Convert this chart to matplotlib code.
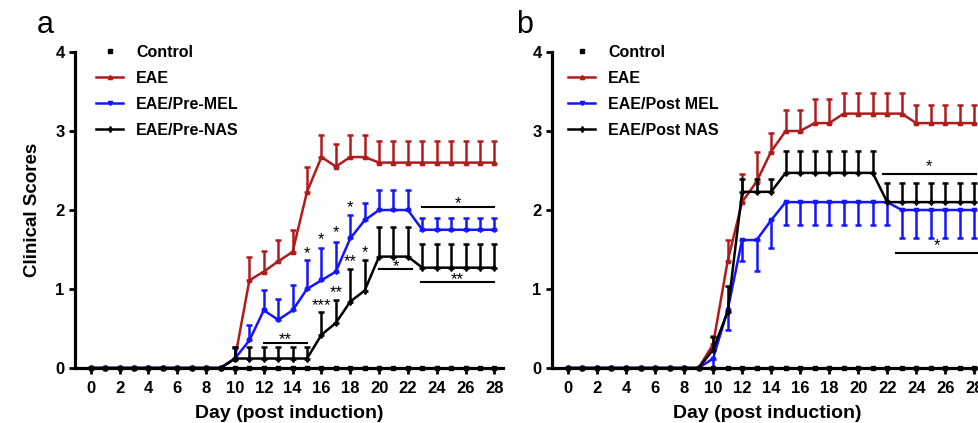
import numpy as np
import matplotlib
matplotlib.use('Agg')
import matplotlib.pyplot as plt
from matplotlib.lines import Line2D

plt.rcParams['font.family'] = ['Liberation Sans', 'DejaVu Sans']

days = list(range(29))

# panel a (pre-treatment)
control = [0] * 29
eae_a = [0, 0, 0, 0, 0, 0, 0, 0, 0, 0,
         0.12, 1.11, 1.22, 1.35, 1.47, 2.23, 2.67, 2.55, 2.67, 2.67,
         2.60, 2.60, 2.60, 2.60, 2.60, 2.60, 2.60, 2.60, 2.60]
eae_a_sem = [0, 0, 0, 0, 0, 0, 0, 0, 0, 0,
             0.15, 0.29, 0.26, 0.27, 0.28, 0.32, 0.28, 0.29, 0.28, 0.28,
             0.27, 0.27, 0.27, 0.27, 0.27, 0.27, 0.27, 0.27, 0.27]
mel_a = [0, 0, 0, 0, 0, 0, 0, 0, 0, 0,
         0.12, 0.35, 0.73, 0.61, 0.73, 1.00, 1.11, 1.22, 1.64, 1.87,
         2.00, 2.00, 2.00, 1.75, 1.75, 1.75, 1.75, 1.75, 1.75]
mel_a_sem = [0, 0, 0, 0, 0, 0, 0, 0, 0, 0,
             0.13, 0.19, 0.26, 0.26, 0.32, 0.37, 0.41, 0.38, 0.30, 0.22,
             0.25, 0.25, 0.25, 0.15, 0.15, 0.15, 0.15, 0.15, 0.15]
nas_a = [0, 0, 0, 0, 0, 0, 0, 0, 0, 0,
         0.12, 0.12, 0.12, 0.12, 0.12, 0.12, 0.42, 0.57, 0.84, 0.98,
         1.41, 1.41, 1.41, 1.27, 1.27, 1.27, 1.27, 1.27, 1.27]
nas_a_sem = [0, 0, 0, 0, 0, 0, 0, 0, 0, 0,
             0.15, 0.15, 0.15, 0.15, 0.15, 0.15, 0.29, 0.29, 0.41, 0.39,
             0.37, 0.37, 0.37, 0.30, 0.30, 0.30, 0.30, 0.30, 0.30]

# panel b (post-treatment)
eae_b = [0, 0, 0, 0, 0, 0, 0, 0, 0, 0,
         0.30, 1.35, 2.10, 2.36, 2.74, 3.00, 3.00, 3.10, 3.10, 3.22,
         3.22, 3.22, 3.22, 3.22, 3.10, 3.10, 3.10, 3.10, 3.10]
eae_b_sem = [0, 0, 0, 0, 0, 0, 0, 0, 0, 0,
             0.10, 0.27, 0.36, 0.38, 0.24, 0.26, 0.26, 0.30, 0.30, 0.26,
             0.26, 0.26, 0.26, 0.26, 0.23, 0.23, 0.23, 0.23, 0.23]
mel_b = [0, 0, 0, 0, 0, 0, 0, 0, 0, 0,
         0.12, 0.73, 1.62, 1.62, 1.87, 2.10, 2.10, 2.10, 2.10, 2.10,
         2.10, 2.10, 2.10, 2.00, 2.00, 2.00, 2.00, 2.00, 2.00]
mel_b_sem = [0, 0, 0, 0, 0, 0, 0, 0, 0, 0,
             0.12, 0.25, 0.27, 0.39, 0.35, 0.29, 0.29, 0.29, 0.29, 0.29,
             0.29, 0.29, 0.29, 0.35, 0.35, 0.35, 0.35, 0.35, 0.35]
nas_b = [0, 0, 0, 0, 0, 0, 0, 0, 0, 0,
         0.23, 0.71, 2.23, 2.23, 2.23, 2.47, 2.47, 2.47, 2.47, 2.47,
         2.47, 2.47, 2.10, 2.10, 2.10, 2.10, 2.10, 2.10, 2.10]
nas_b_sem = [0, 0, 0, 0, 0, 0, 0, 0, 0, 0,
             0.16, 0.33, 0.16, 0.16, 0.16, 0.28, 0.28, 0.28, 0.28, 0.28,
             0.28, 0.28, 0.24, 0.24, 0.24, 0.24, 0.24, 0.24, 0.24]

# significance bars: (start day, end day, y, label)
bars_a = [(12, 15, 0.32, '**'), (20, 22.3, 1.25, '*'),
          (23, 28, 2.04, '*'), (22.9, 28, 1.09, '**')]
bars_b = [(21.7, 28.1, 2.46, '*'), (22.6, 28.2, 1.46, '*')]
# single-point stars: (day, y, label)
stars_a = [(15, 1.45, '*'), (16, 1.63, '*'), (17, 1.72, '*'), (18, 2.04, '*'),
           (19, 1.47, '*'), (16, 0.80, '***'), (17, 0.96, '**'), (18, 1.35, '**')]

RED = '#b01c1c'
BLUE = '#1414ff'


def panel(ax, eae, eae_sem, mel, mel_sem, nas, nas_sem, mel_down):
    z = np.zeros(29)
    ax.plot(days, control, 's', color='black', ms=3, clip_on=False, zorder=6)
    ax.errorbar(days, eae, yerr=[z, eae_sem], color=RED, marker='^', ms=3,
                lw=1.8, elinewidth=1.8, capsize=2.5, capthick=1.8,
                clip_on=False, zorder=3)
    if mel_down:
        merr = [mel_sem, z]
    else:
        merr = [z, mel_sem]
    ax.errorbar(days, mel, yerr=merr, color=BLUE, marker='v', ms=3,
                lw=1.8, elinewidth=1.8, capsize=2.5, capthick=1.8,
                clip_on=False, zorder=4)
    ax.errorbar(days, nas, yerr=[z, nas_sem], color='black', marker='d', ms=3,
                lw=1.8, elinewidth=1.8, capsize=2.5, capthick=1.8,
                clip_on=False, zorder=5)

    ax.set_xlim(-1.1, 28.6)
    ax.set_ylim(0, 4)
    ax.set_xticks(range(0, 29, 2))
    ax.set_yticks([0, 1, 2, 3, 4])
    for s in ['top', 'right']:
        ax.spines[s].set_visible(False)
    for s in ['left', 'bottom']:
        ax.spines[s].set_linewidth(2.3)
    ax.spines['bottom'].set_zorder(7)
    ax.tick_params(width=2, length=4, labelsize=12)
    ax.tick_params(axis='x', pad=5)
    for t in ax.get_xticklabels() + ax.get_yticklabels():
        t.set_fontweight('bold')
    ax.set_xlabel('Day (post induction)', fontsize=14, fontweight='bold',
                  labelpad=7)

    handles = [
        Line2D([], [], ls='none', marker='s', color='black', ms=3.5),
        Line2D([], [], color=RED, lw=1.8, marker='^', ms=3),
        Line2D([], [], color=BLUE, lw=1.8, marker='v', ms=3),
        Line2D([], [], color='black', lw=1.8, marker='d', ms=3),
    ]
    return handles


fig = plt.figure(figsize=(9.79, 4.23), dpi=100)
ax1 = fig.add_axes([75 / 979, 55 / 423, 428 / 979, 316 / 423])
ax2 = fig.add_axes([552 / 979, 55 / 423, 431 / 979, 316 / 423])

labels_a = ['Control', 'EAE', 'EAE/Pre-MEL', 'EAE/Pre-NAS']
labels_b = ['Control', 'EAE', 'EAE/Post MEL', 'EAE/Post NAS']
h1 = panel(ax1, eae_a, eae_a_sem, mel_a, mel_a_sem, nas_a, nas_a_sem, False)
h2 = panel(ax2, eae_b, eae_b_sem, mel_b, mel_b_sem, nas_b, nas_b_sem, True)

ax1.set_ylabel('Clinical Scores', fontsize=13.5, fontweight='bold', labelpad=10)

for x0, x1, y, lab in bars_a:
    ax1.plot([x0, x1], [y, y], color='black', lw=1.5)
    ax1.text((x0 + x1) / 2, y - 0.06, lab, ha='center', va='bottom', fontsize=12)
for x, y, lab in stars_a:
    ax1.text(x, y - 0.1, lab, ha='center', va='bottom', fontsize=12)
for x0, x1, y, lab in bars_b:
    ax2.plot([x0, x1], [y, y], color='black', lw=1.5)
    ax2.text((x0 + x1) / 2, y + 0.0, lab, ha='center', va='bottom', fontsize=12)

for ax, h, labs, xa in [(ax1, h1, labels_a, 88 / 979), (ax2, h2, labels_b, 560 / 979)]:
    ax.legend(h, labs, loc='upper left', bbox_to_anchor=(xa, 1 - 37 / 423),
              bbox_transform=fig.transFigure, frameon=False, borderpad=0,
              handlelength=1.7, handletextpad=0.8, labelspacing=0.68,
              prop={'weight': 'bold', 'size': 11.5})

fig.text(37 / 979, 1 - 25 / 423, 'a', fontsize=22, ha='left', va='center')
fig.text(516 / 979, 1 - 25 / 423, 'b', fontsize=22, ha='left', va='center')

fig.savefig('out.png', dpi=100)
